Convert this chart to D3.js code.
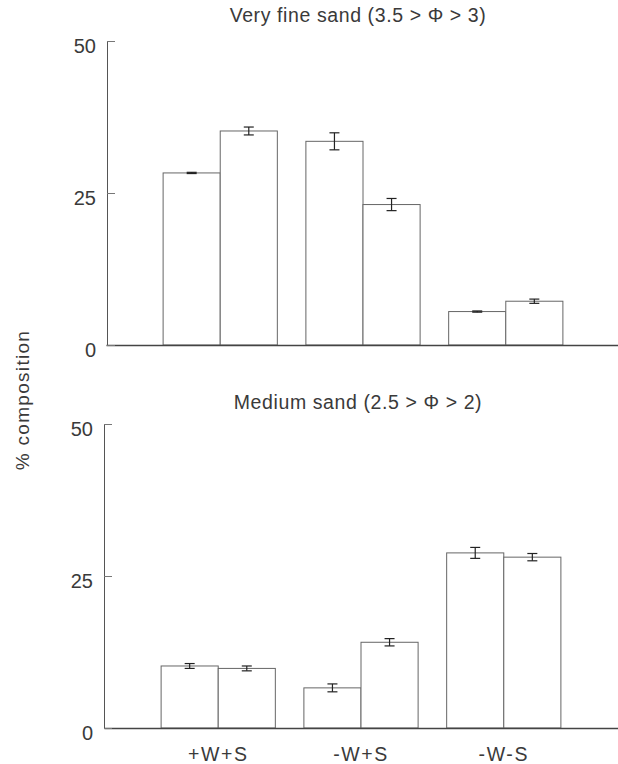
<!DOCTYPE html>
<html>
<head>
<meta charset="utf-8">
<script src="https://cdn.jsdelivr.net/npm/d3@7"></script>
<style>
  body { margin: 0; background: #fff; }
  text { font-family: "Liberation Sans", Arial, sans-serif; fill: #3a3a3a; }
</style>
</head>
<body>
<svg id="chart" width="618" height="764"></svg>
<script>
const groups = ["+W+S", "-W+S", "-W-S"];
const pairs = ["a", "b"];

// very fine sand, two bars per group
const fineMean = [[28.3, 35.2], [33.5, 23.1], [5.5, 7.2]];
const fineErr  = [[0.1, 0.65], [1.4, 1.0], [0.1, 0.35]];

// medium sand
const medMean = [[10.2, 9.8], [6.6, 14.1], [28.8, 28.1]];
const medErr  = [[0.4, 0.4], [0.65, 0.6], [0.9, 0.6]];

const yTicks = [0, 25, 50];

const svg = d3.select("#chart");

function drawPanel(opts) {
  const g = svg.append("g");

  const x = d3.scaleBand()
    .domain(groups)
    .range(opts.xRange)
    .paddingInner(0.2)
    .paddingOuter(0.4);

  const xIn = d3.scaleBand()
    .domain(pairs)
    .range([0, x.bandwidth()]);

  const y = d3.scaleLinear()
    .domain([0, 50])
    .range(opts.yRange);

  // title
  g.append("text")
    .attr("x", 358)
    .attr("y", opts.titleY)
    .attr("text-anchor", "middle")
    .style("font-size", "19.5px")
    .style("letter-spacing", "0.6px")
    .text(opts.title);

  // bars
  const rows = [];
  groups.forEach((grp, i) => {
    pairs.forEach((p, j) => {
      rows.push({ grp, p, v: opts.mean[i][j], e: opts.err[i][j] });
    });
  });

  g.selectAll("rect.bar")
    .data(rows)
    .enter()
    .append("rect")
    .attr("class", "bar")
    .attr("x", d => x(d.grp) + xIn(d.p))
    .attr("y", d => y(d.v))
    .attr("width", xIn.bandwidth())
    .attr("height", d => y(0) - y(d.v))
    .attr("fill", "#fff")
    .attr("stroke", "#666")
    .attr("stroke-width", 1);

  // error bars
  const eb = g.selectAll("g.err")
    .data(rows)
    .enter()
    .append("g")
    .attr("class", "err")
    .attr("stroke", "#222")
    .attr("stroke-width", 1.2);

  const cx = d => x(d.grp) + xIn(d.p) + xIn.bandwidth() / 2;
  eb.append("line")
    .attr("x1", cx).attr("x2", cx)
    .attr("y1", d => y(d.v + d.e))
    .attr("y2", d => y(d.v - d.e));
  eb.append("line")
    .attr("x1", d => cx(d) - 5).attr("x2", d => cx(d) + 5)
    .attr("y1", d => y(d.v + d.e)).attr("y2", d => y(d.v + d.e));
  eb.append("line")
    .attr("x1", d => cx(d) - 5).attr("x2", d => cx(d) + 5)
    .attr("y1", d => y(d.v - d.e)).attr("y2", d => y(d.v - d.e));

  // x axis
  const xAxis = g.append("g")
    .attr("transform", "translate(0," + y(0) + ")")
    .call(d3.axisBottom(x).tickSize(0).tickPadding(19));
  xAxis.select(".domain").attr("stroke", "#444").attr("stroke-width", 1.3);
  xAxis.selectAll("text")
    .style("font-size", "19.5px")
    .style("letter-spacing", "1.6px")
    .style("fill", "#3a3a3a")
    .style("font-family", "\"Liberation Sans\", Arial, sans-serif")
    .attr("opacity", opts.showX ? 1 : 0);

  // y axis
  const yAxis = g.append("g")
    .attr("transform", "translate(" + opts.axisX + ",0)")
    .call(d3.axisLeft(y).tickValues(yTicks).tickSizeInner(-8).tickSizeOuter(0).tickPadding(11));
  yAxis.select(".domain").attr("stroke", "#555");
  yAxis.selectAll(".tick line").attr("stroke", "#777");
  yAxis.selectAll("text")
    .style("font-size", "20px")
    .style("fill", "#3a3a3a")
    .style("font-family", "\"Liberation Sans\", Arial, sans-serif")
    .attr("dy", "0.55em");
}

drawPanel({
  title: "Very fine sand (3.5 > \u03A6 > 3)",
  titleY: 22,
  mean: fineMean,
  err: fineErr,
  xRange: [106, 620],
  yRange: [345, 41],
  axisX: 107,
  showX: false
});

drawPanel({
  title: "Medium sand (2.5 > \u03A6 > 2)",
  titleY: 409,
  mean: medMean,
  err: medErr,
  xRange: [104, 618],
  yRange: [728, 424],
  axisX: 104,
  showX: true
});

svg.append("text")
  .attr("transform", "translate(29,400) rotate(-90)")
  .attr("text-anchor", "middle")
  .style("font-size", "19px")
  .style("letter-spacing", "1.3px")
  .text("% composition");
</script>
</body>
</html>
